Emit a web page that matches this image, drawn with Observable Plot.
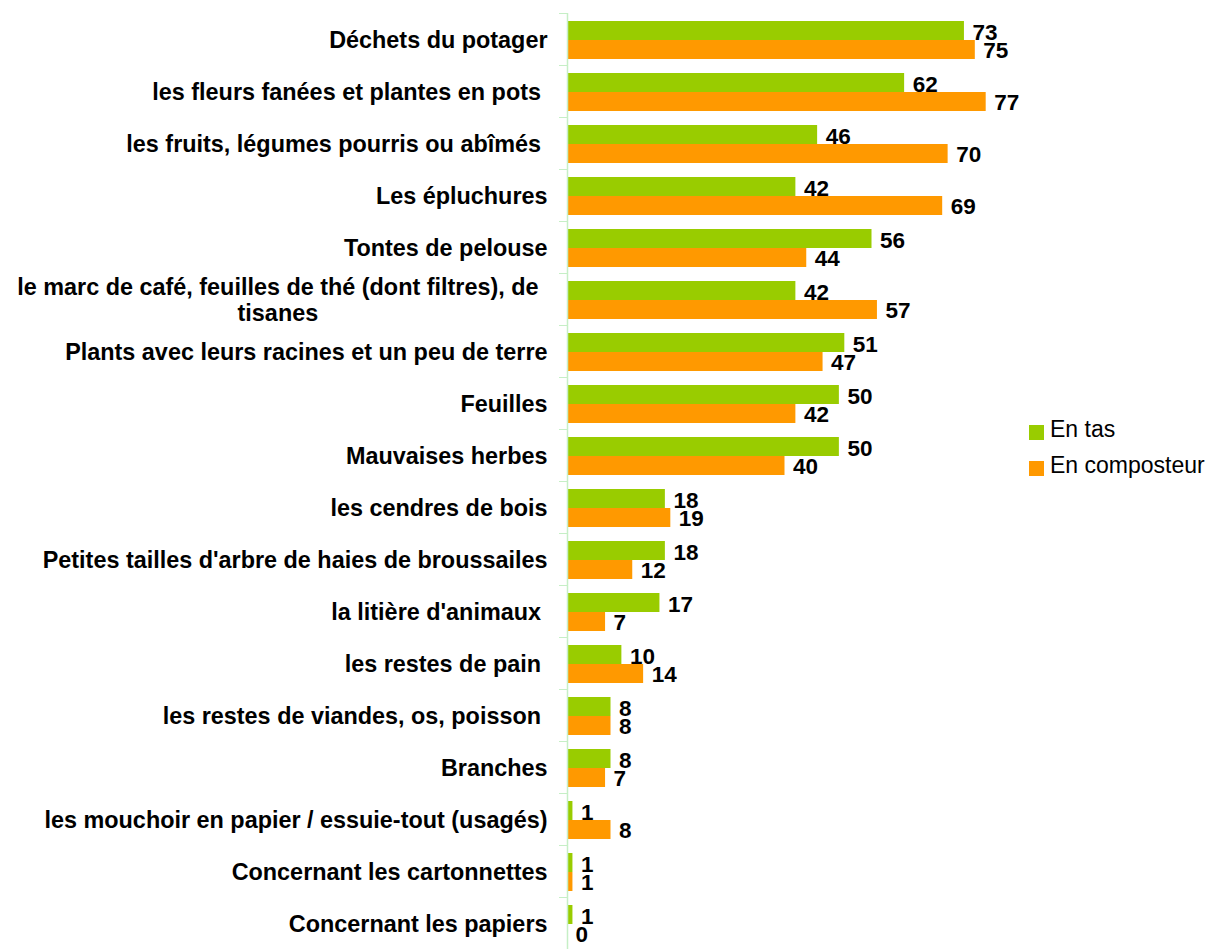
<!DOCTYPE html>
<html>
<head>
<meta charset="utf-8">
<script src="https://cdn.jsdelivr.net/npm/d3@7"></script>
<script src="https://cdn.jsdelivr.net/npm/@observablehq/plot@0.6"></script>
<style>
  body { margin: 0; background: #fff; }
  #wrap { position: relative; width: 1208px; height: 950px; font-family: "Liberation Sans", Arial, sans-serif; }
  #legend { position: absolute; left: 1029px; top: 411px; font-size: 23px; color: #000; }
  #legend .row { display: flex; align-items: center; height: 36px; }
  #legend .sw { width: 15px; height: 15px; margin-right: 6px; margin-top: 6px; }
</style>
</head>
<body>
<div id="wrap"><div id="legend"></div></div>
<script>
const categories = [
  "Déchets du potager",
  "les fleurs fanées et plantes en pots\u00a0",
  "les fruits, légumes pourris ou abîmés\u00a0",
  "Les épluchures",
  "Tontes de pelouse",
  "le marc de café, feuilles de thé (dont filtres), de\ntisanes",
  "Plants avec leurs racines et un peu de terre",
  "Feuilles",
  "Mauvaises herbes",
  "les cendres de bois",
  "Petites tailles d'arbre de haies de broussailes",
  "la litière d'animaux\u00a0",
  "les restes de pain\u00a0",
  "les restes de viandes, os, poisson\u00a0",
  "Branches",
  "les mouchoir en papier / essuie-tout (usagés)",
  "Concernant les cartonnettes",
  "Concernant les papiers"
];
const enTas =        [73, 62, 46, 42, 56, 42, 51, 50, 50, 18, 18, 17, 10, 8, 8, 1, 1, 1];
const enComposteur = [75, 77, 70, 69, 44, 57, 47, 42, 40, 19, 12, 7, 14, 8, 7, 8, 1, 0];
const series = ["En tas", "En composteur"];
const colors = ["#99cc00", "#ff9900"];
const axisColor = "#c6efc6";

const tas = categories.map((c, i) => ({cat: c, value: enTas[i]}));
const comp = categories.map((c, i) => ({cat: c, value: enComposteur[i]}));

const font = "Liberation Sans, Arial, sans-serif";

const chart = Plot.plot({
  width: 1208,
  height: 950,
  marginLeft: 567,
  marginRight: 206,
  marginTop: 13,
  marginBottom: 1,
  style: {fontFamily: font, background: "transparent", overflow: "visible"},
  x: {domain: [0, 80], axis: null},
  y: {domain: categories, padding: 0, axis: null},
  marks: [
    Plot.barX(tas, {x: "value", y: "cat", fill: colors[0], insetTop: 8, insetBottom: 25}),
    Plot.barX(comp, {x: "value", y: "cat", fill: colors[1], insetTop: 27, insetBottom: 6}),
    Plot.ruleX([0], {stroke: axisColor, strokeWidth: 1.5}),
    Plot.axisY({tickSize: 8, tickFormat: () => "", dy: -26, stroke: axisColor, label: null}),
    Plot.axisY({tickSize: 0, tickPadding: 20, fontSize: 23.4, fontWeight: "bold", lineHeight: 1.12, fill: "#000", label: null}),
    Plot.text(tas, {x: "value", y: "cat", text: d => String(d.value), dx: 8, dy: -7, textAnchor: "start", fontSize: 22.5, fontWeight: "bold", fill: "#000"}),
    Plot.text(comp, {x: "value", y: "cat", text: d => String(d.value), dx: 8, dy: 11, textAnchor: "start", fontSize: 22.5, fontWeight: "bold", fill: "#000"})
  ]
});

const wrap = document.getElementById("wrap");
wrap.insertBefore(chart, wrap.firstChild);

// center the wrapped category label like the original
chart.querySelectorAll("text").forEach(t => {
  const ts = t.querySelectorAll("tspan");
  if (ts.length === 2 && t.textContent.startsWith("le marc")) {
    const w1 = ts[0].getComputedTextLength();
    t.setAttribute("text-anchor", "middle");
    ts.forEach(s => s.setAttribute("x", -(w1 / 2) - 9));
  }
});

const legend = document.getElementById("legend");
series.forEach((s, i) => {
  const row = document.createElement("div");
  row.className = "row";
  const sw = document.createElement("span");
  sw.className = "sw";
  sw.style.background = colors[i];
  const label = document.createElement("span");
  label.textContent = s;
  row.appendChild(sw);
  row.appendChild(label);
  legend.appendChild(row);
});
</script>
</body>
</html>
